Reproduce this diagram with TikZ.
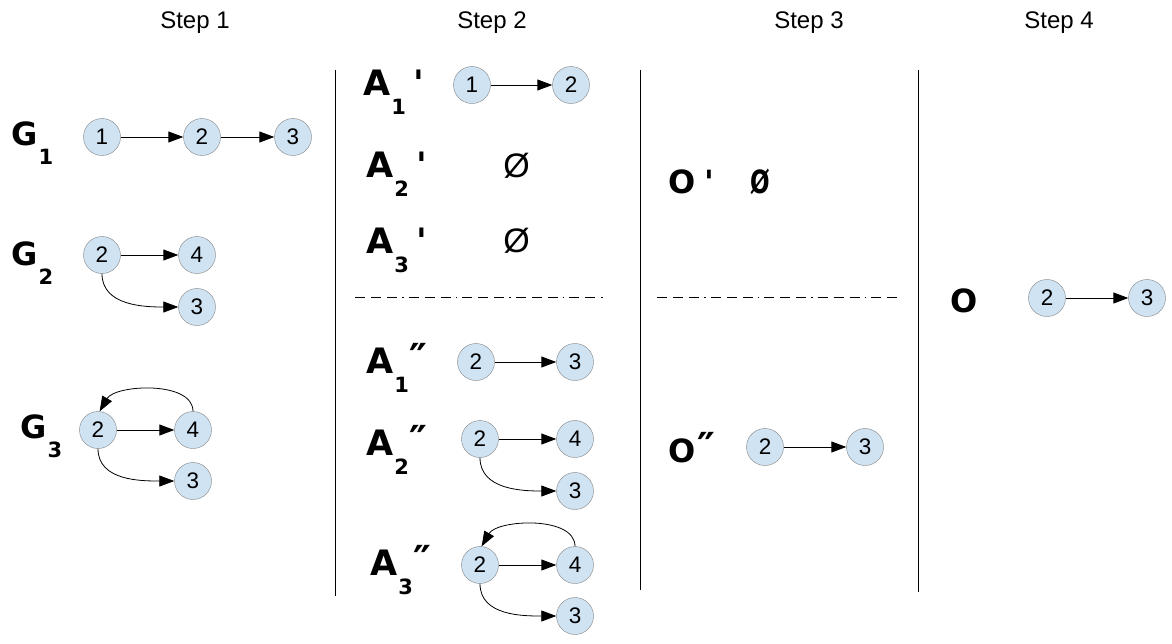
\documentclass[tikz,border=0pt]{standalone}
\usepackage{fontspec}
\setmainfont{Liberation Sans}[Ligatures=TeXOff]
\newfontfamily\labfont{DejaVu Sans}[Ligatures=TeXOff]
\usepackage{tikz}
\usetikzlibrary{positioning}
\usetikzlibrary{arrows.meta}
\usetikzlibrary{automata}
\definecolor{nodeblue}{RGB}{207,227,243}
\definecolor{rimgray}{RGB}{130,130,130}

\newcommand{\subfont}{\fontsize{21}{21}\selectfont}
\newcommand{\sublab}[2]{#1\kern1pt\raisebox{-19pt}{\subfont #2}}
\newcommand{\dprime}{\raisebox{1pt}{\fontsize{40}{40}\selectfont ″}}

\begin{document}
\begin{tikzpicture}[
            x = 1pt, y = -1pt, % pixel grid, y downwards
              > = {Triangle[length=15pt, width=11pt]}, % arrow head style
            shorten > = 0pt,
            auto,
            node distance = 95pt, % distance between nodes
            semithick % line style
        ]

        \tikzstyle{every state}=[
            draw = rimgray,
            thin,
            fill = nodeblue,
            minimum size = 37pt,
            inner sep = 0pt,
            font = \fontsize{22.5}{22.5}\selectfont
        ]
        \tikzstyle{head}=[anchor = base, inner sep = 0pt, font = \fontsize{24}{24}\selectfont]
        \tikzstyle{lab}=[anchor = base west, inner sep = 0pt, font = \labfont\bfseries\fontsize{32}{32}\selectfont]
        \tikzstyle{alab}=[lab, font = \labfont\bfseries\fontsize{35}{35}\selectfont]
        \tikzstyle{empty}=[anchor = base west, inner sep = 0pt, font = \fontsize{34}{34}\selectfont]
        \tikzstyle{link}=[->, line width = 1pt]
        \tikzstyle{curvedlink}=[->, line width = 0.8pt]
        \tikzstyle{splitline}=[line width = 0.8pt, dash pattern = {on 10pt off 6pt on 10pt off 6pt on 10pt off 5pt on 1.5pt off 5pt}]

        \useasboundingbox (0,0) rectangle (1172,643);

	% headers
        \node[head] (S1) at (195,28) {Step 1};
        \node[head] (S2) at (492,28) {Step 2};
        \node[head] (S3) at (809,28) {Step 3};
        \node[head] (S4) at (1059,28) {Step 4};

        % column rules
        \draw[thin] (335,70) -- (335,596);
        \draw[thin] (640,70) -- (640,590);
        \draw[thin] (918,70) -- (918,592);
        \draw[splitline] (355,297) -- (603,297);
        \draw[splitline] (657,297) -- (903,297);

	% step 1
        \node[lab] (G1) at (11,145) {\sublab{G}{1}};
        \node[state] (g1a) at (102,137) {1};
        \node[state] (g1b) [node distance = 100pt, right of = g1a] {2};
        \node[state] (g1c) [node distance = 91pt, right of = g1b] {3};
        \path[link] (g1a) edge node {} (g1b);
        \path[link] (g1b) edge node {} (g1c);

        \node[lab] (G2) at (11,265) {\sublab{G}{2}};
        \node[state] (g2a) at (102,255) {2};
        \node[state] (g2b) [right of = g2a] {4};
        \node[state] (g2c) [node distance = 52pt, below of = g2b] {3};
        \path[link] (g2a) edge node {} (g2b);
        \path[curvedlink] (g2a) edge[out = -90, in = 180] node {} (g2c);

        \node[lab] (G3) at (20,438) {\sublab{G}{3}};
        \node[state] (g3a) at (98,430) {2};
        \node[state] (g3b) [right of = g3a] {4};
        \node[state] (g3c) [node distance = 51pt, below of = g3b] {3};
        \path[link] (g3a) edge node {} (g3b);
        \path[curvedlink] (g3a) edge[out = -90, in = 180] node {} (g3c);
        \path[curvedlink] (g3b) edge[out = 90, in = 60, looseness = 0.85] node {} (g3a.85);

	% step 2, first half
        \node[alab] (A1) at (363,95) {\sublab{A}{1}\kern7pt'};
        \node[state] (a1a) at (472,85) {1};
        \node[state] (a1b) [node distance = 99pt, right of = a1a] {2};
        \path[link] (a1a) edge node {} (a1b);

        \node[alab] (A2) at (366,177) {\sublab{A}{2}\kern7pt'};
        \node[empty] (E2) at (503,177) {Ø};

        \node[alab] (A3) at (366,253) {\sublab{A}{3}\kern7pt'};
        \node[empty] (E3) at (503,252) {Ø};

	% step 2, second half
        \node[alab] (B1) at (366,373) {\sublab{A}{1}\kern0pt\dprime};
        \node[state] (b1a) at (476,362) {2};
        \node[state] (b1b) [node distance = 99pt, right of = b1a] {3};
        \path[link] (b1a) edge node {} (b1b);

        \node[alab] (B2) at (366,455) {\sublab{A}{2}\kern0pt\dprime};
        \node[state] (b2a) at (480,439) {2};
        \node[state] (b2b) [right of = b2a] {4};
        \node[state] (b2c) [node distance = 52pt, below of = b2b] {3};
        \path[link] (b2a) edge node {} (b2b);
        \path[curvedlink] (b2a) edge[out = -90, in = 180] node {} (b2c);

        \node[alab] (B3) at (370,575) {\sublab{A}{3}\kern0pt\dprime};
        \node[state] (b3a) at (480,565) {2};
        \node[state] (b3b) [right of = b3a] {4};
        \node[state] (b3c) [node distance = 51pt, below of = b3b] {3};
        \path[link] (b3a) edge node {} (b3b);
        \path[curvedlink] (b3a) edge[out = -90, in = 180] node {} (b3c);
        \path[curvedlink] (b3b) edge[out = 90, in = 60, looseness = 0.85] node {} (b3a.85);

	% step 3
        \node[lab] (O1) at (668,193) {O\kern9pt'};
        \node[lab] (E4) at (750,193) {\scalebox{0.72}[1]{Ø}};

        \node[lab] (O2) at (668,462) {O\kern2pt\dprime};
        \node[state] (o2a) at (765,447) {2};
        \node[state] (o2b) [node distance = 100pt, right of = o2a] {3};
        \path[link] (o2a) edge node {} (o2b);

	% step 4
        \node[lab] (O) at (950,312) {O};
        \node[state] (oa) at (1047,298) {2};
        \node[state] (ob) [node distance = 100pt, right of = oa] {3};
        \path[link] (oa) edge node {} (ob);

  \end{tikzpicture}
\end{document}
